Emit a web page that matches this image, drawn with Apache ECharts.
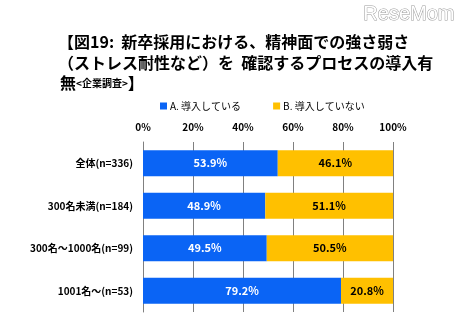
<!DOCTYPE html>
<html><head><meta charset="utf-8">
<script src="https://cdn.jsdelivr.net/npm/echarts@6/dist/echarts.min.js"></script>
<style>html,body{margin:0;padding:0;background:#fff}#c{width:463px;height:332px}</style>
</head><body><div id="c"></div>
<script>
const categories = ['全体(n=336)', '300名未満(n=184)', '300名～1000名(n=99)', '1001名～(n=53)'];
const seriesNames = ['A. 導入している', 'B. 導入していない'];
const valuesA = [53.9, 48.9, 49.5, 79.2];
const valuesB = [46.1, 51.1, 50.5, 20.8];
const xTicks = [0, 20, 40, 60, 80, 100];

const chart = echarts.init(document.getElementById('c'));
const font = '"Noto Sans CJK JP", sans-serif';
chart.setOption({
  animation: false,
  textStyle: { fontFamily: font },
  graphic: [
    { type: 'text', right: 8, top: 4, style: { text: 'ReseMom', fill: '#fff', stroke: '#9a9a9a', lineWidth: 1, font: '20px "Liberation Sans", sans-serif' } },
    { type: 'text', left: 58, top: 34, style: { text: '【図19:  新卒採用における、精神面での強さ弱さ', fill: '#000', font: 'bold 16px ' + font } },
    { type: 'text', left: 58, top: 55, style: { text: '（ストレス耐性など）を  確認するプロセスの導入有', fill: '#000', font: 'bold 16px ' + font } },
    { type: 'text', left: 60, top: 75, style: { rich: { a: { font: 'bold 16px ' + font, fill: '#000' }, b: { font: 'bold 10px ' + font, fill: '#000' } }, text: '{a|無}{b|<企業調査>}{a|】}' } }
  ],
  legend: {
    top: 96, left: 155, itemWidth: 7, itemHeight: 7, itemGap: 32, icon: 'rect',
    textStyle: { fontSize: 10, fontFamily: font, color: '#000', padding: [0, 0, 0, -2] },
    data: seriesNames
  },
  grid: { left: 143, right: 70, top: 142, bottom: 20 },
  xAxis: {
    type: 'value', min: 0, max: 100, interval: 20, position: 'top',
    axisLabel: { formatter: v => v + '%', fontSize: 10, color: '#000', fontWeight: 'bold', margin: 10 },
    axisLine: { show: false }, axisTick: { show: false },
    splitLine: { lineStyle: { color: '#808080', width: 1 } }
  },
  yAxis: {
    type: 'category', inverse: true, data: categories,
    axisLine: { show: true, lineStyle: { color: '#808080' } }, axisTick: { show: false },
    axisLabel: { fontSize: 10, color: '#000', fontWeight: 'bold', margin: 10 }
  },
  series: [
    { name: seriesNames[0], type: 'bar', stack: 's', data: valuesA, barWidth: 26,
      itemStyle: { color: '#0A64F5' },
      label: { show: true, formatter: p => p.value.toFixed(1) + '%', color: '#fff', fontSize: 11, fontWeight: 'bold' } },
    { name: seriesNames[1], type: 'bar', stack: 's', data: valuesB, barWidth: 26,
      itemStyle: { color: '#FFC000' },
      label: { show: true, formatter: p => p.value.toFixed(1) + '%', color: '#000', fontSize: 11, fontWeight: 'bold' } }
  ]
});
</script></body></html>
